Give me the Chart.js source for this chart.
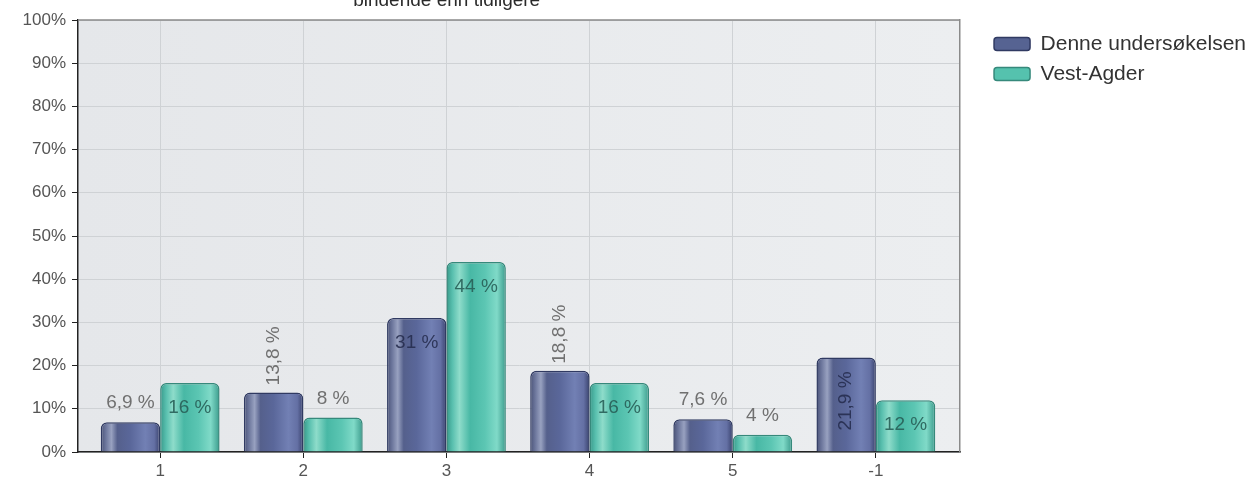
<!DOCTYPE html>
<html>
<head>
<meta charset="utf-8">
<script src="https://cdn.jsdelivr.net/npm/chart.js@4/dist/chart.umd.min.js"></script>
<style>
  html, body { margin: 0; padding: 0; background: #fff; }
  #wrap { width: 1256px; height: 488px; }
</style>
</head>
<body>
<div id="wrap"><canvas id="chart" width="1256" height="488"></canvas></div>
<script>
// Données
const categories = ['1', '2', '3', '4', '5', '-1'];
const seriesNames = ['Denne undersøkelsen', 'Vest-Agder'];
const denneValues = [6.9, 13.8, 31, 18.8, 7.6, 21.9];
const vestAgderValues = [16, 8, 44, 16, 4, 12];
const yTickValues = [0, 10, 20, 30, 40, 50, 60, 70, 80, 90, 100];
const titleText = 'bindende enn tidligere';

// placement des étiquettes (style)
const labelModes = [
    ['above', 'aboveRot', 'inside', 'aboveRot', 'above', 'insideRot'],
    ['inside', 'above', 'inside', 'inside', 'above', 'inside']
];

const barStops = [
    [[0, '#4a5276'], [0.08, '#6a749a'], [0.18, '#98a1c0'], [0.28, '#55608c'], [0.5, '#5a679a'], [0.75, '#7280b4'], [0.9, '#6470a4'], [1, '#39426d']],
    [[0, '#379889'], [0.1, '#58bfae'], [0.22, '#8edcca'], [0.4, '#48b8a5'], [0.65, '#5cc6b3'], [0.85, '#80dac8'], [1, '#3b9b8c']]
];
const baseColors = ['#566392', '#55c2ae'];
const borderColors = ['#303a62', '#36897b'];

function fmt(v) {
    return String(v).replace('.', ',') + ' %';
}

// fond de la zone de tracé + bord haut + titre
const plotBackground = {
    id: 'plotBackground',
    beforeDraw(chart) {
        const {ctx, chartArea: a} = chart;
        const g = ctx.createLinearGradient(a.left, 0, a.right, 0);
        g.addColorStop(0, '#e5e7ea');
        g.addColorStop(1, '#eceef0');
        ctx.save();
        ctx.fillStyle = g;
        ctx.fillRect(a.left, a.top, a.right - a.left, a.bottom - a.top);
        ctx.restore();
    },
    afterDraw(chart) {
        const {ctx, chartArea: a} = chart;
        ctx.save();
        ctx.strokeStyle = '#8a8a8a';
        ctx.lineWidth = 1.5;
        ctx.beginPath();
        ctx.moveTo(a.left, a.top);
        ctx.lineTo(a.right, a.top);
        ctx.stroke();
        // titre (première ligne coupée dans l'original)
        ctx.fillStyle = '#2a2a2a';
        ctx.font = '19px "Liberation Sans", Arial, sans-serif';
        ctx.textAlign = 'center';
        ctx.textBaseline = 'alphabetic';
        ctx.fillText(titleText, a.left + (a.right - a.left) * 0.418, 6);
        ctx.restore();
    }
};

// dégradé "cylindre" sur chaque barre
const barGradient = {
    id: 'barGradient',
    beforeDatasetsDraw(chart) {
        const ctx = chart.ctx;
        chart.data.datasets.forEach((ds, di) => {
            const meta = chart.getDatasetMeta(di);
            meta.data.forEach(el => {
                const x0 = el.x - el.width / 2;
                const g = ctx.createLinearGradient(x0, 0, x0 + el.width, 0);
                barStops[di].forEach(s => g.addColorStop(s[0], s[1]));
                el.options.backgroundColor = g;
            });
        });
    }
};

// étiquettes de valeurs
const valueLabels = {
    id: 'valueLabels',
    afterDatasetsDraw(chart) {
        const ctx = chart.ctx;
        ctx.save();
        ctx.font = '19px "Liberation Sans", Arial, sans-serif';
        chart.data.datasets.forEach((ds, di) => {
            const meta = chart.getDatasetMeta(di);
            meta.data.forEach((el, i) => {
                const txt = fmt(ds.data[i].y);
                const mode = labelModes[di][i];
                const inside = mode.indexOf('inside') === 0;
                ctx.fillStyle = inside ? (di === 0 ? 'rgba(35,42,75,0.85)' : 'rgba(40,95,88,0.9)') : '#707070';
                if (mode === 'above') {
                    ctx.textAlign = 'center';
                    ctx.textBaseline = 'middle';
                    ctx.fillText(txt, el.x, el.y - 19);
                } else if (mode === 'inside') {
                    ctx.textAlign = 'center';
                    ctx.textBaseline = 'middle';
                    ctx.fillText(txt, el.x, el.y + 25);
                } else {
                    ctx.save();
                    ctx.translate(el.x, mode === 'aboveRot' ? el.y - 7 : el.y + 14);
                    ctx.rotate(-Math.PI / 2);
                    ctx.textBaseline = 'middle';
                    ctx.textAlign = mode === 'aboveRot' ? 'left' : 'right';
                    ctx.fillText(txt, 0, 0);
                    ctx.restore();
                }
            });
        });
        ctx.restore();
    }
};

const tickFont = { family: '"Liberation Sans", Arial, sans-serif', size: 17 };

new Chart(document.getElementById('chart'), {
    type: 'bar',
    data: {
        datasets: [denneValues, vestAgderValues].map((vals, di) => ({
            label: seriesNames[di],
            data: vals.map((v, i) => ({ x: i, y: v })),
            backgroundColor: () => baseColors[di],
            borderColor: borderColors[di],
            borderWidth: 1.5,
            borderSkipped: 'bottom',
            borderRadius: { topLeft: 6, topRight: 6, bottomLeft: 0, bottomRight: 0 },
            categoryPercentage: 0.83,
            barPercentage: 1.0
        }))
    },
    options: {
        responsive: false,
        animation: false,
        layout: { padding: { top: 20, left: 0, right: 0, bottom: 0 } },
        plugins: {
            tooltip: { enabled: false },
            title: { display: false },
            legend: {
                position: 'right',
                align: 'start',
                maxWidth: 273,
                title: { display: true, text: '', font: { size: 2 }, padding: 1 },
                labels: {
                    boxWidth: 36,
                    boxHeight: 13,
                    padding: 9,
                    useBorderRadius: true,
                    borderRadius: 3,
                    color: '#333',
                    font: { family: '"Liberation Sans", Arial, sans-serif', size: 21 }
                }
            }
        },
        scales: {
            x: {
                type: 'linear',
                min: -0.574,
                max: 5.588,
                offset: false,
                afterBuildTicks: s => { s.ticks = categories.map((c, i) => ({ value: i })); },
                afterFit: s => { s.height = 36; },
                ticks: {
                    callback: v => categories[v],
                    color: '#555',
                    font: tickFont,
                    padding: 3,
                    maxRotation: 0
                },
                grid: { offset: false, color: '#cfd2d5', tickColor: '#222', tickLength: 6, lineWidth: 1 },
                border: { color: '#222', width: 1.5 }
            },
            y: {
                min: 0,
                max: 100,
                afterBuildTicks: s => { s.ticks = yTickValues.map(v => ({ value: v })); },
                afterFit: s => { s.width = 78; },
                ticks: {
                    callback: v => v + '%',
                    color: '#555',
                    font: tickFont,
                    padding: 6
                },
                grid: { color: '#cfd2d5', tickColor: '#222', tickLength: 6, lineWidth: 1 },
                border: { color: '#222', width: 1.5 }
            },
            y2: {
                type: 'linear',
                position: 'right',
                display: true,
                min: 0,
                max: 1,
                afterFit: s => { s.width = 25; },
                ticks: { display: false },
                grid: { display: false, drawTicks: false },
                border: { color: '#8a8a8a', width: 1.5 }
            }
        }
    },
    plugins: [plotBackground, barGradient, valueLabels]
});
</script>
</body>
</html>
